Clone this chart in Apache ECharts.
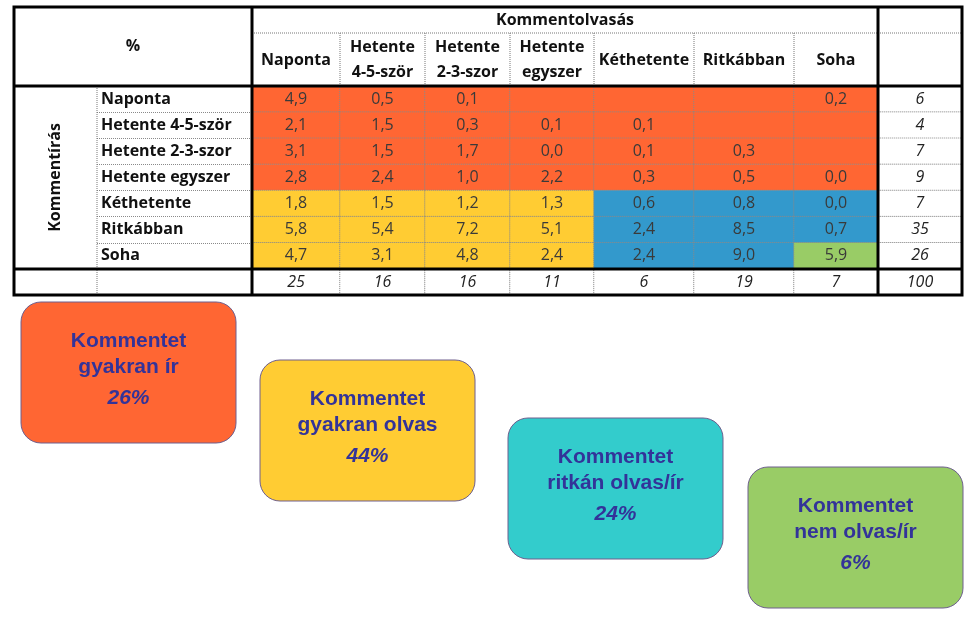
<!DOCTYPE html>
<html><head><meta charset="utf-8">
<script src="https://cdn.jsdelivr.net/npm/echarts@6/dist/echarts.min.js"></script>
<style>html,body{margin:0;padding:0;background:#fff}#c{width:969px;height:625px}</style>
</head><body><div id="c"></div>
<script>
// ---------- DATA ----------
const readCats = ['Naponta','Hetente\n4-5-ször','Hetente\n2-3-szor','Hetente\negyszer','Kéthetente','Ritkábban','Soha'];
const writeCats = ['Naponta','Hetente 4-5-ször','Hetente 2-3-szor','Hetente egyszer','Kéthetente','Ritkábban','Soha'];
const writeNaponta    = [4.9, 0.5, 0.1, null, null, null, 0.2];
const writeHetente45  = [2.1, 1.5, 0.3, 0.1, 0.1, null, null];
const writeHetente23  = [3.1, 1.5, 1.7, 0.0, 0.1, 0.3, null];
const writeEgyszer    = [2.8, 2.4, 1.0, 2.2, 0.3, 0.5, 0.0];
const writeKethetente = [1.8, 1.5, 1.2, 1.3, 0.6, 0.8, 0.0];
const writeRitkabban  = [5.8, 5.4, 7.2, 5.1, 2.4, 8.5, 0.7];
const writeSoha       = [4.7, 3.1, 4.8, 2.4, 2.4, 9.0, 5.9];
const rowTotals = [6, 4, 7, 9, 7, 35, 26];
const colTotals = [25, 16, 16, 11, 6, 19, 7];
const grandTotal = 100;
const groupTitles = ['Kommentet\ngyakran ír', 'Kommentet\ngyakran olvas', 'Kommentet\nritkán olvas/ír', 'Kommentet\nnem olvas/ír'];
const groupShares = [26, 44, 24, 6];

const matrix = [writeNaponta, writeHetente45, writeHetente23, writeEgyszer, writeKethetente, writeRitkabban, writeSoha];

// ---------- LAYOUT / STYLE ----------
const FONT = 'Open Sans';
const colEdges = [252, 340, 425, 510, 594, 694, 794, 878];
const tableLeft = 14, tableRight = 962, tableTopOuter = 7, headerSplit = 33;
const tableTop = 86, tableBottom = 295, labelLeft = 97, totalLeft = 878;
const rowH = (tableBottom - tableTop) / 8;
const cellColors = ['#FF6633', '#FFCC33', '#3399CC', '#99CC66'];
const boxColors = ['#FF6633', '#FFCC33', '#33CCCC', '#99CC66'];
const boxPos = [[21, 302], [260, 360], [508, 418], [748, 467]];
const boxW = 215, boxH = 141;
const cellBorder = { borderColor: '#8a8a8a', borderWidth: 1, borderType: 'dotted' };

function cellGroup(r, c) {
  if (r < 4) return 0;          // gyakran ír
  if (c < 4) return 1;          // gyakran olvas
  if (r === 6 && c === 6) return 3; // nem olvas / ír
  return 2;                     // ritkán olvas / ír
}
const fmt = v => v.toFixed(1).replace('.', ',');
const rowAxisData = writeCats.concat(['']);

const grids = [], xAxes = [], yAxes = [], series = [];

// row label grid
grids.push({ left: labelLeft, top: tableTop, width: colEdges[0] - labelLeft, height: tableBottom - tableTop });
xAxes.push({ type: 'category', gridIndex: 0, data: [''], show: false });
yAxes.push({
  type: 'category', gridIndex: 0, data: rowAxisData, inverse: true,
  axisLine: { show: false }, axisTick: { show: false },
  axisLabel: { inside: true, margin: 4, fontFamily: FONT, fontWeight: 'bold', fontSize: 16, color: '#111', interval: 0 },
  splitLine: { show: true, interval: 0, lineStyle: { color: '#8a8a8a', type: 'dotted' } }
});

// data column grids
readCats.forEach((cat, c) => {
  const gi = grids.length;
  grids.push({ left: colEdges[c], top: tableTop, width: colEdges[c + 1] - colEdges[c], height: tableBottom - tableTop });
  xAxes.push({
    type: 'category', gridIndex: gi, data: [cat], position: 'top',
    axisLine: { show: false }, axisTick: { show: false }, splitLine: { show: false },
    axisLabel: { interval: 0, margin: 26, verticalAlign: 'middle', lineHeight: 25, fontFamily: FONT, fontWeight: 'bold', fontSize: 16, color: '#111' }
  });
  yAxes.push({ type: 'category', gridIndex: gi, data: rowAxisData, inverse: true, show: false });
  const data = matrix.map((row, r) => ({
    value: [0, r, row[c] == null ? 0 : row[c]],
    itemStyle: { color: cellColors[cellGroup(r, c)] }
  }));
  data.push({ value: [0, 7, colTotals[c]], itemStyle: { color: '#fff' }, label: { fontStyle: 'italic', color: '#222' } });
  series.push({
    type: 'heatmap', xAxisIndex: gi, yAxisIndex: gi, data,
    itemStyle: cellBorder,
    emphasis: { disabled: true },
    label: {
      show: true, fontFamily: FONT, fontSize: 16, color: '#3a3a3a',
      formatter: p => p.dataIndex === 7 ? String(colTotals[c]) : (matrix[p.dataIndex][c] == null ? '' : fmt(matrix[p.dataIndex][c]))
    }
  });
});

// totals column grid
{
  const gi = grids.length;
  grids.push({ left: totalLeft, top: tableTop, width: tableRight - totalLeft, height: tableBottom - tableTop });
  xAxes.push({ type: 'category', gridIndex: gi, data: [''], show: false });
  yAxes.push({ type: 'category', gridIndex: gi, data: rowAxisData, inverse: true, show: false });
  const data = rowTotals.map((v, r) => ({ value: [0, r, v] }));
  data.push({ value: [0, 7, grandTotal] });
  series.push({
    type: 'heatmap', xAxisIndex: gi, yAxisIndex: gi, data,
    itemStyle: Object.assign({ color: '#fff' }, cellBorder),
    emphasis: { disabled: true },
    label: { show: true, fontFamily: FONT, fontSize: 16, fontStyle: 'italic', color: '#222', formatter: p => String(p.value[2]) }
  });
}

// ---------- GRAPHIC (frame, headers, summary boxes) ----------
const graphic = [];
const dotted = { stroke: '#777', lineWidth: 1, lineDash: [1, 1] };
const thick = { stroke: '#000', lineWidth: 3 };
function line(x1, y1, x2, y2, style) { graphic.push({ type: 'line', z: 100, shape: { x1, y1, x2, y2 }, style }); }
line(colEdges[0], headerSplit, tableRight, headerSplit, dotted);
for (let i = 1; i < colEdges.length - 1; i++) line(colEdges[i], headerSplit, colEdges[i], tableTop, dotted);
line(labelLeft, tableTop, labelLeft, tableBottom, dotted);
line(tableLeft, tableTop, tableRight, tableTop, thick);
line(tableLeft, tableTop + 7 * rowH, tableRight, tableTop + 7 * rowH, thick);
line(colEdges[0], tableTopOuter, colEdges[0], tableBottom, thick);
line(totalLeft, tableTopOuter, totalLeft, tableBottom, thick);
graphic.push({ type: 'rect', z: 100, shape: { x: tableLeft, y: tableTopOuter, width: tableRight - tableLeft, height: tableBottom - tableTopOuter }, style: { fill: 'none', stroke: '#000', lineWidth: 3 } });
graphic.push({ type: 'text', z: 101, x: (tableLeft + colEdges[0]) / 2, y: 46, style: { text: '%', fontFamily: FONT, fontWeight: 'bold', fontSize: 16, fill: '#111', align: 'center', verticalAlign: 'middle' } });
graphic.push({ type: 'text', z: 101, x: (colEdges[0] + totalLeft) / 2, y: 20, style: { text: 'Kommentolvasás', fontFamily: FONT, fontWeight: 'bold', fontSize: 16, fill: '#111', align: 'center', verticalAlign: 'middle' } });
graphic.push({ type: 'text', z: 101, x: (tableLeft + labelLeft) / 2, y: tableTop + 3.5 * rowH, rotation: Math.PI / 2, style: { text: 'Kommentírás', fontFamily: FONT, fontWeight: 'bold', fontSize: 16, fill: '#111', align: 'center', verticalAlign: 'middle' } });

groupTitles.forEach((t, i) => {
  const [bx, by] = boxPos[i];
  graphic.push({ type: 'rect', shape: { x: bx, y: by, width: boxW, height: boxH, r: 20 }, style: { fill: boxColors[i], stroke: '#6e5f8e', lineWidth: 1 } });
  const lines = t.split('\n').map(s => '{t|' + s + '}').join('\n') + '\n{p|' + groupShares[i] + '%}';
  graphic.push({
    type: 'text', x: bx + boxW / 2, y: by + boxH / 2,
    style: {
      text: lines, align: 'center', verticalAlign: 'middle',
      rich: {
        t: { fontFamily: 'Liberation Sans', fontWeight: 'bold', fontSize: 21, lineHeight: 26, fill: '#333399', align: 'center' },
        p: { fontFamily: 'Liberation Sans', fontWeight: 'bold', fontStyle: 'italic', fontSize: 21, lineHeight: 36, fill: '#333399', align: 'center' }
      }
    }
  });
});

const chart = echarts.init(document.getElementById('c'), null, { renderer: 'canvas' });
chart.setOption({
  animation: false,
  backgroundColor: '#fff',
  grid: grids, xAxis: xAxes, yAxis: yAxes, series, graphic
});
</script></body></html>
